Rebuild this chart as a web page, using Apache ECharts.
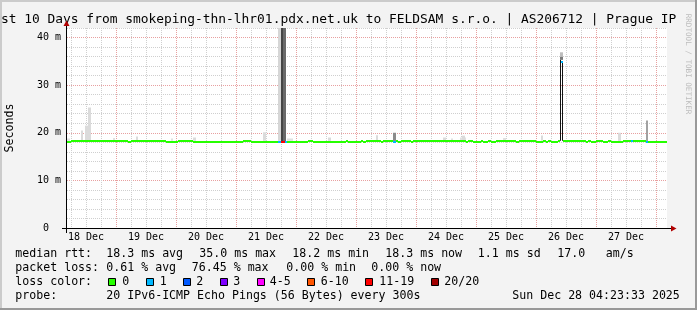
<!DOCTYPE html>
<html><head><meta charset="utf-8">
<script src="https://cdn.jsdelivr.net/npm/echarts@6/dist/echarts.min.js"></script>
<style>html,body{margin:0;padding:0;background:#f3f3f3}#c{width:697px;height:310px}</style>
</head><body><div id="c"></div>
<script>
// ---------- data ----------
const YEAR = 2025;
const START = '12-18 04:24';
const END = '12-28 04:24';
const dayLabels = ['18 Dec','19 Dec','20 Dec','21 Dec','22 Dec','23 Dec','24 Dec','25 Dec','26 Dec','27 Dec'];

// median rtt (ms) per segment start, and lost pings (of 20)
const medStart = ['12-18 04:24','12-18 06:00','12-19 04:48','12-19 06:00','12-19 20:00','12-20 00:48','12-20 06:48','12-21 02:48','12-21 06:00','12-21 16:48',
  '12-21 18:00','12-21 19:36','12-21 20:24','12-22 04:48','12-22 06:48','12-22 20:00','12-22 20:48','12-23 02:00','12-23 02:48','12-23 04:00',
  '12-23 10:00','12-23 10:48','12-23 14:48','12-23 16:00','12-23 16:48','12-23 18:00','12-23 22:00','12-23 22:48','12-24 20:00','12-24 20:48',
  '12-24 22:48','12-25 02:00','12-25 02:48','12-25 04:48','12-25 06:00','12-25 08:00','12-25 16:00','12-25 17:12','12-26 00:00','12-26 02:48',
  '12-26 04:00','12-26 04:48','12-26 06:00','12-26 08:48','12-26 09:36','12-26 10:00','12-26 10:48','12-26 20:00','12-26 20:48','12-26 22:00',
  '12-27 00:00','12-27 02:48','12-27 04:48','12-27 06:00','12-27 10:48','12-27 14:00','12-27 14:48','12-27 20:00','12-27 20:48'];
const medValue = [18.2,18.4,18.2,18.4,18.2,18.4,18.2,18.4,18.2,18.2,
  18.2,18.2,18.2,18.4,18.2,18.4,18.2,18.4,18.2,18.4,
  18.2,18.4,18.2,18.4,18.2,18.4,18.2,18.4,18.2,18.4,
  18.2,18.4,18.2,18.4,18.2,18.4,18.2,18.4,18.2,18.4,
  18.2,18.4,18.2,18.4,null,35.0,18.4,18.2,18.4,18.2,
  18.4,18.2,18.4,18.2,18.4,18.4,18.4,18.2,18.2];
const medLoss = [0,0,0,0,0,0,0,0,0,1,
  15,1,0,0,0,0,0,0,0,0,
  0,0,1,0,0,0,0,0,0,0,
  0,0,0,0,0,0,0,0,0,0,
  0,0,0,0,0,1,0,0,0,0,
  0,0,0,0,0,1,0,1,0];

// smoke (spread of the 20 pings)
const smokeStart = ['12-18 04:24','12-18 10:00','12-18 11:36','12-18 12:48','12-18 22:48','12-19 08:00','12-19 22:00','12-20 06:48','12-21 10:48','12-21 16:48',
  '12-21 18:00','12-21 18:48','12-21 20:24','12-22 12:48','12-23 08:00','12-23 14:48','12-24 10:48','12-24 14:00','12-24 17:36','12-24 18:24',
  '12-25 10:48','12-26 02:00','12-26 09:36','12-26 10:24','12-26 09:36','12-26 09:36','12-27 08:48','12-27 20:00'];
const smokeEnd = ['12-18 05:36','12-18 10:48','12-18 12:48','12-18 14:00','12-18 23:36','12-19 08:48','12-19 22:48','12-20 08:00','12-21 12:00','12-21 18:00',
  '12-21 18:48','12-21 20:00','12-21 22:48','12-22 14:00','12-23 08:48','12-23 16:00','12-24 12:00','12-24 14:48','12-24 20:00','12-24 19:36',
  '12-25 12:00','12-26 02:48','12-26 10:00','12-26 10:48','12-26 10:48','12-26 10:48','12-27 10:00','12-27 20:48'];
const smokeLow = [18.3,18.3,18.3,18.3,18.3,18.3,18.3,18.3,18.3,18.3,
  18.1,18.1,18.3,18.3,18.3,18.2,18.3,18.3,18.3,18.3,
  18.3,18.3,18.3,18.3,35.3,36.0,18.3,18.2];
const smokeHigh = [18.8,20.5,21.5,25.3,18.9,19.2,18.8,19.0,20.1,60,
  60,60,18.8,19.0,19.5,20.0,19.0,18.8,19.0,19.4,
  18.9,19.4,35.3,35.0,36.0,36.9,20.0,22.6];
const smokeShade = [0.88,0.86,0.86,0.86,0.88,0.86,0.88,0.86,0.86,0.84,
  0.27,0.41,0.88,0.86,0.86,0.55,0.86,0.88,0.88,0.86,
  0.88,0.86,0.07,0.07,0.48,0.74,0.86,0.63];

// loss colour legend
const lossLabels = ['0','1','2','3','4-5','6-10','11-19','20/20'];
const lossUpper  = [0,1,2,3,5,10,19,20];
const lossColors = ['#26ff00','#00b8ff','#0059ff','#7e00ff','#ff00ff','#ff5500','#ff0000','#a10000'];

// texts
const titleText = 'st 10 Days from smokeping-thn-lhr01.pdx.net.uk to FELDSAM s.r.o. | AS206712 | Prague IP';
const row1 = [['median rtt:',16],['18.3 ms avg',107],['35.0 ms max',200],['18.2 ms min',293],['18.3 ms now',386],['1.1 ms sd',478.5],['17.0',558],['am/s',606.5]];
const row2 = [['packet loss:',16],['0.61 % avg',107],['76.45 % max',192.5],['0.00 % min',287],['0.00 % now',372]];
const row4 = [['probe:',16],['20 IPv6-ICMP Echo Pings (56 Bytes) every 300s',107],['Sun Dec 28 04:23:33 2025',513]];
const swatchX = [108,146,183,220,257,307,365,431];
const swatchLabelX = [123,160.5,197,234,270.5,321.5,380,445];

// ---------- helpers ----------
function T(s){const [md,hm]=s.split(' ');const [mo,d]=md.split('-').map(Number);const [h,mi]=hm.split(':').map(Number);return Date.UTC(YEAR,mo-1,d,h,mi);}
function lossColor(n){for(let i=0;i<lossUpper.length;i++){if(n<=lossUpper[i])return lossColors[i];}return lossColors[lossColors.length-1];}
function grey(f){const v=Math.round(f*255);return 'rgb('+v+','+v+','+v+')';}

const MONO = 'DejaVu Sans Mono';
const STEP = 24*60*1000; // one pixel column = 24 minutes
const tMin = T(START), tMax = T(END);

// x split-line colour cycle (one day = 60 steps); 6-hourly grey, midnight red
const MINOR = '#cfcfcf', MAJOR = '#e8a0a0';
const xColors = [];
for (let i=0;i<60;i++){
  const t = new Date(tMin + i*STEP);
  const mins = t.getUTCHours()*60 + t.getUTCMinutes();
  if (mins === 0) xColors.push(MAJOR);
  else if (mins % 360 === 0) xColors.push(MINOR);
  else xColors.push('rgba(0,0,0,0)');
}

const chart = echarts.init(document.getElementById('c'), null, {renderer:'canvas', width:697, height:310});

const graphics = [];
// frame shading
graphics.push({type:'rect', shape:{x:0,y:0,width:697,height:2}, style:{fill:'#cbcbcb'}, z:100});
graphics.push({type:'rect', shape:{x:0,y:0,width:2,height:310}, style:{fill:'#cbcbcb'}, z:100});
graphics.push({type:'rect', shape:{x:0,y:308,width:697,height:2}, style:{fill:'#999999'}, z:100});
graphics.push({type:'rect', shape:{x:695,y:0,width:2,height:310}, style:{fill:'#999999'}, z:100});
// title
graphics.push({type:'text', x:1, y:19.5, style:{text:titleText, font:'12.9px "'+MONO+'"', fill:'#000', verticalAlign:'middle', align:'left'}, z:100});
// watermark
graphics.push({type:'text', x:688, y:64, rotation:-Math.PI/2, style:{text:'RRDTOOL / TOBI OETIKER', font:'7.6px "'+MONO+'"', fill:'#bdbdbd', verticalAlign:'middle', align:'center'}, z:100});
// axis extensions and arrows
graphics.push({type:'line', shape:{x1:62,y1:228.5,x2:68,y2:228.5}, style:{stroke:'#000',lineWidth:1}, z:100});
graphics.push({type:'line', shape:{x1:666,y1:228.5,x2:672,y2:228.5}, style:{stroke:'#000',lineWidth:1}, z:100});
graphics.push({type:'polygon', shape:{points:[[671,225.5],[676.5,228.5],[671,231.5]]}, style:{fill:'#b00000'}, z:100});
graphics.push({type:'line', shape:{x1:66.5,y1:24,x2:66.5,y2:29}, style:{stroke:'#000',lineWidth:1}, z:100});
graphics.push({type:'line', shape:{x1:66.5,y1:228,x2:66.5,y2:233}, style:{stroke:'#000',lineWidth:1}, z:100});
graphics.push({type:'polygon', shape:{points:[[63.5,26],[66.5,20.5],[69.5,26]]}, style:{fill:'#b00000'}, z:100});
// legend rows
function addRow(row, y){row.forEach(([txt,x])=>graphics.push({type:'text', x:x-0.7, y:y, style:{text:txt, font:'11.6px "'+MONO+'"', fill:'#000', verticalAlign:'middle', align:'left'}, z:100}));}
addRow(row1, 253.7);
addRow(row2, 267.7);
addRow([['loss color:',16]], 281.7);
lossLabels.forEach((lab,i)=>{
  graphics.push({type:'rect', shape:{x:swatchX[i]+0.5,y:278.5,width:7,height:7}, style:{fill:lossColors[i], stroke:'#000', lineWidth:1}, z:100});
  graphics.push({type:'text', x:swatchLabelX[i]-0.7, y:281.7, style:{text:lab, font:'11.6px "'+MONO+'"', fill:'#000', verticalAlign:'middle', align:'left'}, z:100});
});
addRow(row4, 295.7);

const option = {
  animation:false,
  backgroundColor:'#f3f3f3',
  grid:{left:67, top:28, width:600, height:200, show:true, backgroundColor:'#ffffff', borderWidth:0, containLabel:false, outerBoundsMode:'none'},
  xAxis:{
    type:'value', min:tMin, max:tMax, interval:STEP,
    axisLine:{show:true, lineStyle:{color:'#000', width:1}},
    axisTick:{show:false},
    axisLabel:{
      margin:9, verticalAlign:'middle', fontFamily:MONO, fontSize:10, color:'#000',
      formatter:function(v){const d=new Date(v);return (d.getUTCHours()===12&&d.getUTCMinutes()===0)?(dayLabels[d.getUTCDate()-18]||''):'';}
    },
    splitLine:{show:true, lineStyle:{color:xColors, type:[1,1], width:1}}
  },
  yAxis:{
    type:'value', min:0, max:42, interval:2, offset:1,
    name:'Seconds', nameLocation:'middle', nameGap:50, nameRotate:90,
    nameTextStyle:{fontFamily:MONO, fontSize:11.6, color:'#000'},
    axisLine:{show:true, lineStyle:{color:'#000', width:1}},
    axisTick:{show:false},
    axisLabel:{margin:5, fontFamily:MONO, fontSize:10, color:'#000',
      formatter:function(v){if(Math.abs(v%10)>1e-9)return '';return v===0?'0  ':(v+' m');}},
    splitLine:{show:true, lineStyle:{color:[MAJOR,MINOR,MINOR,MINOR,MINOR], type:[1,1], width:1}}
  },
  series:[
    {
      type:'custom', name:'smoke', z:2, silent:true,
      data: smokeStart.map((s,i)=>[T(s), T(smokeEnd[i]), smokeLow[i], smokeHigh[i], i]),
      renderItem:function(params, api){
        const i = api.value(4);
        const p0 = api.coord([api.value(0), api.value(3)]);
        const p1 = api.coord([api.value(1), api.value(2)]);
        const shape = echarts.graphic.clipRectByRect({x:p0[0], y:p0[1], width:p1[0]-p0[0], height:p1[1]-p0[1]}, {x:params.coordSys.x, y:params.coordSys.y, width:params.coordSys.width, height:params.coordSys.height});
        if(!shape) return null;
        return {type:'rect', shape:shape, style:{fill:grey(smokeShade[i])}};
      }
    },
    {
      type:'custom', name:'median', z:3, silent:true,
      data: medStart.map((s,i)=>[T(s), i+1<medStart.length?T(medStart[i+1]):tMax, medValue[i]==null?NaN:medValue[i], medLoss[i], i]),
      renderItem:function(params, api){
        const v = api.value(2);
        if (isNaN(v)) return null;
        const a = api.coord([api.value(0), v]);
        const b = api.coord([api.value(1), v]);
        const y = Math.floor(a[1]);
        return {type:'rect', shape:{x:a[0], y:y, width:b[0]-a[0], height:2}, style:{fill:lossColor(api.value(3))}};
      }
    }
  ],
  graphic: graphics
};
chart.setOption(option);
</script>
</body></html>
